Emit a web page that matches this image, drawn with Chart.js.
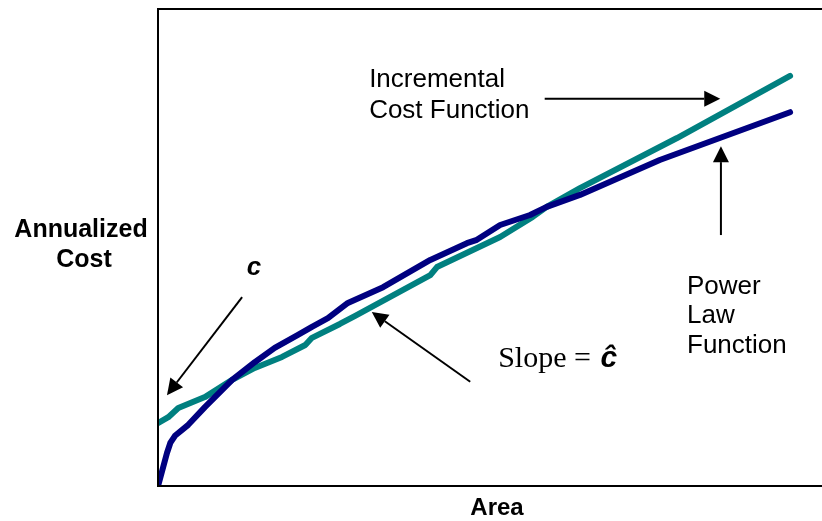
<!DOCTYPE html>
<html>
<head>
<meta charset="utf-8">
<script src="https://cdn.jsdelivr.net/npm/chart.js@4"></script>
<style>
  html, body { margin: 0; padding: 0; background: #ffffff; }
  #wrap { width: 822px; height: 521px; }
</style>
</head>
<body>
<div id="wrap"><canvas id="costChart" width="822" height="521"></canvas></div>
<script>
// Area (0-100) vs annualized cost (0-100)
const powerArea = [0.2, 0.8, 1.5, 2.0, 2.7, 4.7, 7.2, 11.3, 14.7, 17.7, 21.2, 23.3, 25.7, 28.7, 34.0, 41.1, 46.6, 48.1, 51.6, 56.1, 58.6, 63.6, 75.6, 95.2];
const powerCost = [0.2, 3.3, 6.9, 9.0, 10.5, 12.8, 16.5, 22.2, 25.9, 28.9, 31.6, 33.3, 35.1, 38.3, 41.6, 47.3, 50.8, 51.5, 54.6, 56.7, 58.4, 60.9, 68.2, 78.2];

const incArea = [0.2, 1.7, 3.2, 7.2, 11.3, 14.7, 18.8, 22.3, 23.3, 27.5, 29.8, 41.1, 42.1, 51.6, 56.5, 58.6, 63.6, 78.2, 95.2];
const incCost = [13.2, 14.4, 16.3, 18.6, 22.2, 24.7, 27.0, 29.5, 31.0, 33.9, 35.6, 44.1, 45.8, 52.1, 56.3, 58.4, 62.3, 72.8, 85.8];

const toPoints = (xs, ys) => xs.map((x, i) => ({ x, y: ys[i] }));

const SANS = "'Liberation Sans', Arial, sans-serif";
const SERIF = "'Liberation Serif', 'Times New Roman', serif";

// annotations in data units: [x1, y1, x2(tip), y2(tip)]
const arrows = [
    [58.3, 81.0, 84.7, 81.0],
    [84.8, 52.5, 84.8, 71.1],
    [12.8, 39.5, 1.5, 19.0],
    [47.1, 21.8, 32.3, 36.4]
];

const notes = [
    { text: "Incremental", x: 31.9, y: 83.5 },
    { text: "Cost Function", x: 31.9, y: 77.0 },
    { text: "Power", x: 79.7, y: 40.2 },
    { text: "Law", x: 79.7, y: 34.1 },
    { text: "Function", x: 79.7, y: 27.8 }
];

const annotatePlugin = {
    id: "annotate",
    afterDatasetsDraw(chart) {
        const { ctx, chartArea: area, scales: { x, y } } = chart;
        ctx.save();

        // frame: top, left, bottom
        ctx.strokeStyle = "#000";
        ctx.lineWidth = 2;
        ctx.beginPath();
        ctx.moveTo(area.right, area.top + 1);
        ctx.lineTo(area.left + 1, area.top + 1);
        ctx.lineTo(area.left + 1, area.bottom);
        ctx.lineTo(area.right, area.bottom);
        ctx.stroke();

        // arrows
        arrows.forEach(([x1, y1, x2, y2]) => {
            const ax = x.getPixelForValue(x1), ay = y.getPixelForValue(y1);
            const bx = x.getPixelForValue(x2), by = y.getPixelForValue(y2);
            const ang = Math.atan2(by - ay, bx - ax);
            const len = 16, half = 8;
            const baseX = bx - len * Math.cos(ang), baseY = by - len * Math.sin(ang);
            ctx.lineWidth = 2;
            ctx.beginPath();
            ctx.moveTo(ax, ay);
            ctx.lineTo(baseX, baseY);
            ctx.stroke();
            ctx.beginPath();
            ctx.moveTo(bx, by);
            ctx.lineTo(baseX + half * Math.sin(ang), baseY - half * Math.cos(ang));
            ctx.lineTo(baseX - half * Math.sin(ang), baseY + half * Math.cos(ang));
            ctx.closePath();
            ctx.fillStyle = "#000";
            ctx.fill();
        });

        ctx.fillStyle = "#000";
        ctx.textBaseline = "alphabetic";
        ctx.textAlign = "left";
        ctx.font = `26px ${SANS}`;
        notes.forEach(n => ctx.fillText(n.text, x.getPixelForValue(n.x), y.getPixelForValue(n.y)));

        // intercept label
        ctx.font = `italic bold 26px ${SANS}`;
        ctx.fillText("c", x.getPixelForValue(13.5), y.getPixelForValue(44.1));

        // slope label
        const sx = x.getPixelForValue(51.3), sy = y.getPixelForValue(24.9);
        ctx.font = `30px ${SERIF}`;
        const part = "Slope = ";
        ctx.fillText(part, sx, sy);
        const w = ctx.measureText(part).width;
        ctx.font = `italic bold 30px ${SANS}`;
        ctx.fillText("\u0109", sx + w + 2, sy);

        // axis titles
        ctx.font = `bold 25px ${SANS}`;
        ctx.textAlign = "center";
        ctx.fillText("Annualized", 81, 237);
        ctx.fillText("Cost", 84, 267);
        ctx.font = `bold 24px ${SANS}`;
        ctx.fillText("Area", 497, 515);

        ctx.restore();
    }
};

new Chart(document.getElementById("costChart"), {
    type: "line",
    data: {
        datasets: [
            {
                label: "Power Law Function",
                data: toPoints(powerArea, powerCost),
                borderColor: "#000080",
                borderWidth: 6,
                borderCapStyle: "round",
                borderJoinStyle: "round",
                pointRadius: 0,
                tension: 0,
                fill: false
            },
            {
                label: "Incremental Cost Function",
                data: toPoints(incArea, incCost),
                borderColor: "#008080",
                borderWidth: 6,
                borderCapStyle: "round",
                borderJoinStyle: "round",
                pointRadius: 0,
                tension: 0,
                fill: false
            }
        ]
    },
    options: {
        responsive: false,
        animation: false,
        layout: { padding: { left: 157, top: 8, right: 0, bottom: 35 } },
        plugins: {
            legend: { display: false },
            tooltip: { enabled: false }
        },
        scales: {
            x: { type: "linear", min: 0, max: 100, display: false },
            y: { type: "linear", min: 0, max: 100, display: false }
        }
    },
    plugins: [annotatePlugin]
});
</script>
</body>
</html>
